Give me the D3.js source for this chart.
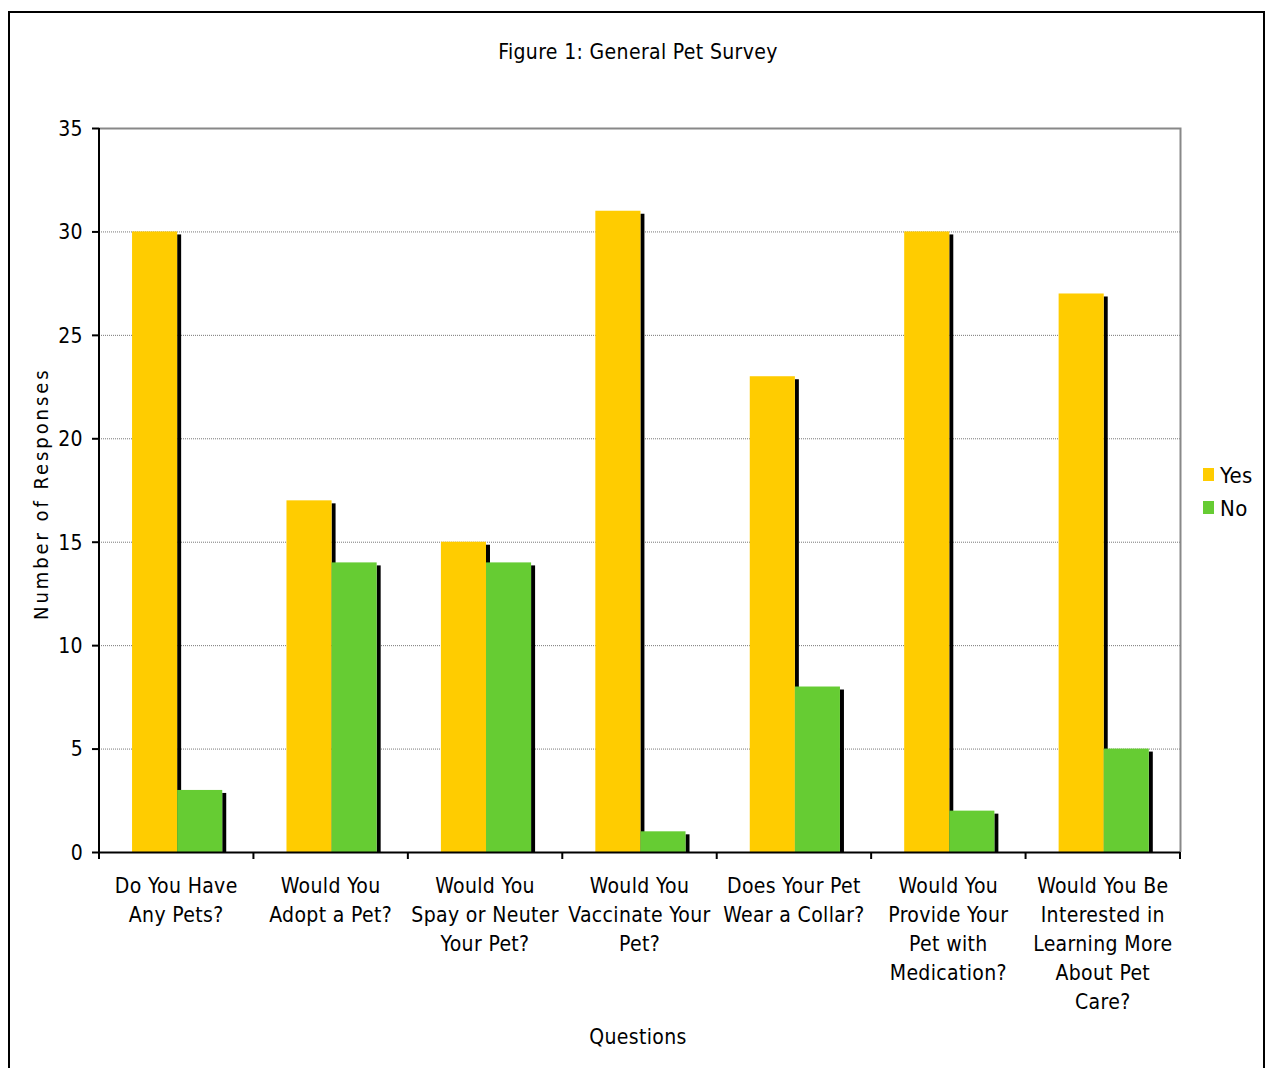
<!DOCTYPE html>
<html><head><meta charset="utf-8">
<script src="https://cdn.jsdelivr.net/npm/d3@7"></script>
<style>
body{margin:0;background:#fff;}
text{font-family:"DejaVu Sans Condensed","DejaVu Sans",sans-serif;fill:#000;letter-spacing:0.35px;}
</style></head>
<body>
<svg id="c" width="1269" height="1068"></svg>
<script>
const categories = [
  ["Do You Have","Any Pets?"],
  ["Would You","Adopt a Pet?"],
  ["Would You","Spay or Neuter","Your Pet?"],
  ["Would You","Vaccinate Your","Pet?"],
  ["Does Your Pet","Wear a Collar?"],
  ["Would You","Provide Your","Pet with","Medication?"],
  ["Would You Be","Interested in","Learning More","About Pet","Care?"]
];
const yesValues = [30, 17, 15, 31, 23, 30, 27];
const noValues = [3, 14, 14, 1, 8, 2, 5];
const seriesNames = ["Yes", "No"];
const yTicks = [0, 5, 10, 15, 20, 25, 30, 35];
const colors = ["#FFCC00", "#66CC33"];

const svg = d3.select("#c");
// outer border
svg.append("rect").attr("x",9).attr("y",12).attr("width",1255).attr("height",1070)
  .attr("fill","none").attr("stroke","#000").attr("stroke-width",2);

const L=99, R=1180, T=128, B=852;
const x = d3.scaleBand().domain(d3.range(categories.length)).range([L,R]).paddingInner(0).paddingOuter(0);
const y = d3.scaleLinear().domain([0,35]).range([B,T]);
const bw = x.bandwidth()*0.292;
const off = x.bandwidth()*0.214;

// gridlines
svg.append("g").selectAll("line").data(yTicks.filter(d=>d>0 && d<35)).join("line")
  .attr("x1",L).attr("x2",R).attr("y1",d=>y(d)+0.5).attr("y2",d=>y(d)+0.5)
  .attr("stroke","#777").attr("stroke-width",1).attr("stroke-dasharray","1,1");
// plot border (top & right)
svg.append("path").attr("d",`M${L},${T+0.5}H${R+0.5}V${B}`).attr("fill","none").attr("stroke","#888").attr("stroke-width",2);

const series = [yesValues, noValues];
series.forEach((vals,si)=>{
  svg.append("g").selectAll("rect").data(vals).join("rect")
    .attr("x",(d,i)=>x(i)+off+bw*(si+1))
    .attr("y",d=>y(d)+3)
    .attr("width",4)
    .attr("height",d=>B-y(d)-3)
    .attr("fill","#000");
});
series.forEach((vals,si)=>{
  svg.append("g").selectAll("rect").data(vals).join("rect")
    .attr("x",(d,i)=>x(i)+off+bw*si)
    .attr("y",d=>y(d))
    .attr("width",bw)
    .attr("height",d=>B-y(d))
    .attr("fill",colors[si]);
});

// y axis
const ya = svg.append("g").attr("transform",`translate(${L},0)`)
  .call(d3.axisLeft(y).tickValues(yTicks).tickSize(7).tickPadding(9));
ya.select(".domain").attr("stroke","#000").attr("stroke-width",2).attr("d",`M0,${T}V${B}`);
ya.selectAll(".tick line").attr("stroke","#000").attr("stroke-width",2);
ya.selectAll(".tick text").attr("font-size",21).attr("font-family","DejaVu Sans Condensed").attr("dy","0.35em");

// x axis
svg.append("line").attr("x1",L).attr("x2",R).attr("y1",B+0.5).attr("y2",B+0.5).attr("stroke","#000").attr("stroke-width",2);
const bounds = d3.range(categories.length+1).map(i=> i<categories.length ? x(i) : R);
svg.append("g").selectAll("line").data(bounds).join("line")
  .attr("x1",d=>d).attr("x2",d=>d).attr("y1",B).attr("y2",B+7).attr("stroke","#000").attr("stroke-width",2);

const xl = svg.append("g");
categories.forEach((lines,i)=>{
  const cx = x(i)+x.bandwidth()/2;
  const t = xl.append("text").attr("text-anchor","middle").attr("font-size",21)
    .attr("x",cx).attr("y",893);
  lines.forEach((ln,j)=>t.append("tspan").attr("x",cx).attr("dy",j?29:0).text(ln));
});

// titles
svg.append("text").attr("x",638).attr("y",59).attr("text-anchor","middle").attr("font-size",21).text("Figure 1: General Pet Survey");
svg.append("text").attr("x",638).attr("y",1044).attr("text-anchor","middle").attr("font-size",21).text("Questions");
svg.append("text").attr("transform","translate(48,495) rotate(-90)").attr("text-anchor","middle")
  .attr("font-size",20).attr("font-family","DejaVu Sans")
  .attr("textLength",250).attr("lengthAdjust","spacing").text("Number of Responses");

// legend
const lg = svg.append("g");
seriesNames.forEach((n,i)=>{
  lg.append("rect").attr("x",1203).attr("y",468+i*33).attr("width",11).attr("height",13).attr("fill",colors[i]);
  lg.append("text").attr("x",1220).attr("y",483+i*33).attr("font-size",22).text(n);
});
</script>
</body></html>
